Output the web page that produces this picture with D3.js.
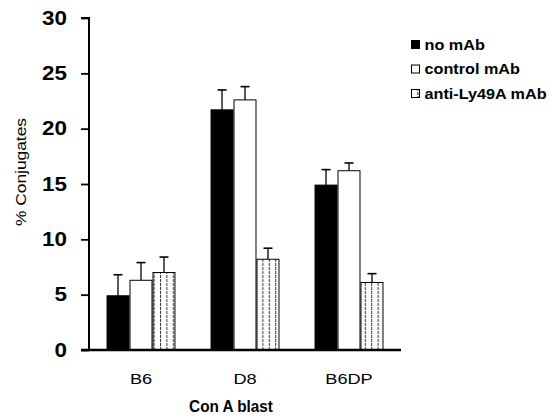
<!DOCTYPE html>
<html>
<head>
<meta charset="utf-8">
<script src="https://cdn.jsdelivr.net/npm/d3@7.9.0/dist/d3.min.js"></script>
<style>
  body { margin: 0; background: #fff; }
  svg { display: block; }
  svg text { font-family: "Liberation Sans", Arial, sans-serif; fill: #000; }
</style>
</head>
<body>
<div id="chart"></div>
<script>
const categories = ['B6', 'D8', 'B6DP'];
const series = ['no mAb', 'control mAb', 'anti-Ly49A mAb'];
const means = [
  [4.9, 6.3, 7.0],
  [21.7, 22.6, 8.2],
  [14.9, 16.2, 6.1],
];
const errors = [
  [1.9, 1.6, 1.4],
  [1.8, 1.2, 1.0],
  [1.4, 0.7, 0.8],
];
const yTicks = [0, 5, 10, 15, 20, 25, 30];

const width = 550;
const height = 416;
const margin = { top: 18, right: 149, bottom: 66, left: 89 };

const svg = d3.select('#chart')
  .append('svg')
  .attr('width', width)
  .attr('height', height);

// hatch for the third series
const defs = svg.append('defs');
const pat = defs.append('pattern')
  .attr('id', 'hatch')
  .attr('patternUnits', 'userSpaceOnUse')
  .attr('width', 6.4)
  .attr('height', 4);
pat.append('rect').attr('width', 6.4).attr('height', 4).attr('fill', '#fff');
pat.append('line')
  .attr('x1', 0.5).attr('x2', 0.5)
  .attr('y1', 0).attr('y2', 4)
  .attr('stroke', '#333')
  .attr('stroke-width', 1)
  .attr('stroke-dasharray', '2,1');

const fills = ['#000', '#fff', 'url(#hatch)'];

const x0 = d3.scaleBand()
  .domain(categories)
  .range([margin.left, width - margin.right])
  .paddingInner(0.337)
  .paddingOuter(0.1685);

const x1 = d3.scaleBand()
  .domain(series)
  .range([0, x0.bandwidth()]);

const y = d3.scaleLinear()
  .domain([0, 30])
  .range([height - margin.bottom, margin.top]);

const rows = categories.flatMap((c, i) =>
  series.map((s, j) => ({ cat: c, ser: s, j, v: means[i][j], e: errors[i][j] })));

const groups = svg.append('g');

// error bars (upper only)
groups.selectAll('g.err')
  .data(rows)
  .join('g')
  .attr('class', 'err')
  .each(function (d) {
    const cx = x0(d.cat) + x1(d.ser) + x1.bandwidth() / 2;
    const g = d3.select(this);
    g.append('line')
      .attr('x1', cx).attr('x2', cx)
      .attr('y1', y(d.v)).attr('y2', y(d.v + d.e))
      .attr('stroke', '#000').attr('stroke-width', 1.3);
    g.append('line')
      .attr('x1', cx - 4.5).attr('x2', cx + 4.5)
      .attr('y1', y(d.v + d.e)).attr('y2', y(d.v + d.e))
      .attr('stroke', '#000').attr('stroke-width', 1.6);
  });

groups.selectAll('rect.bar')
  .data(rows)
  .join('rect')
  .attr('class', 'bar')
  .attr('x', (d) => x0(d.cat) + x1(d.ser) + 0.5)
  .attr('y', (d) => y(d.v))
  .attr('width', x1.bandwidth() - 1)
  .attr('height', (d) => y(0) - y(d.v))
  .attr('fill', (d) => fills[d.j])
  .attr('stroke', '#000')
  .attr('stroke-width', 1);

// y axis
const yAxis = svg.append('g')
  .attr('transform', `translate(${margin.left},0)`)
  .call(d3.axisLeft(y).tickValues(yTicks).tickSize(8));
yAxis.attr('font-family', null).attr('font-size', null);
yAxis.select('.domain').attr('stroke', '#000').attr('stroke-width', 2).attr('d', `M-8,${y(30)}H0V${y(0)}`);
yAxis.selectAll('.tick line').attr('stroke', '#000').attr('stroke-width', 1.8);
yAxis.selectAll('.tick text')
  .attr('x', 0)
  .attr('transform', 'translate(-22,0) scale(1.15,1)')
  .style('font-size', '19.5px')
  .style('font-weight', 'bold');

// x axis
const xAxis = svg.append('g')
  .attr('transform', `translate(0,${y(0)})`)
  .call(d3.axisBottom(x0).tickSize(0));
xAxis.attr('font-family', null).attr('font-size', null);
xAxis.select('.domain')
  .attr('stroke', '#000')
  .attr('stroke-width', 2.5)
  .attr('d', `M${margin.left - 8},0H${width - margin.right}`);
xAxis.selectAll('.tick text')
  .attr('y', 0)
  .attr('dy', null)
  .attr('transform', 'translate(0,34) scale(1.3,1)')
  .style('font-size', '14px');

svg.append('text')
  .attr('transform', 'translate(231,412) scale(1.02,1.1)')
  .attr('text-anchor', 'middle')
  .style('font-size', '15px')
  .style('font-weight', 'bold')
  .text('Con A blast');

svg.append('text')
  .attr('transform', `translate(26,172) rotate(-90) scale(1.12,1)`)
  .attr('text-anchor', 'middle')
  .style('font-size', '15.5px')
  .text('% Conjugates');

// legend
const legend = svg.append('g')
  .attr('transform', 'translate(411,40)')
  .selectAll('g')
  .data(series)
  .join('g')
  .attr('transform', (d, i) => `translate(0,${i * 24.5})`);
legend.append('rect')
  .attr('x', 0.5).attr('y', 0.5)
  .attr('width', 8).attr('height', 8)
  .attr('fill', (d, i) => fills[i])
  .attr('stroke', '#000');
legend.append('text')
  .attr('transform', 'translate(13.5,9.5) scale(1.08,1)')
  .style('font-size', '15px')
  .style('font-weight', 'bold')
  .text((d) => d);
</script>
</body>
</html>
